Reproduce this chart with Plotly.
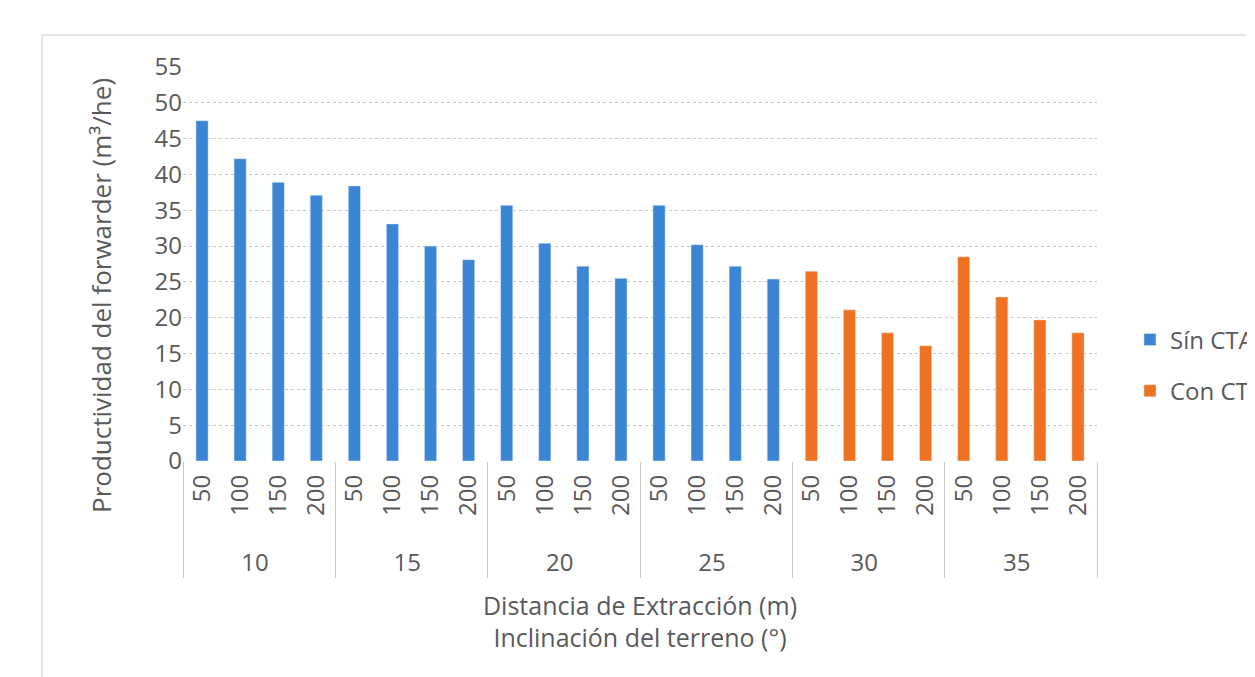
import plotly.graph_objects as go

inclinacion_sin = ["10"] * 4 + ["15"] * 4 + ["20"] * 4 + ["25"] * 4
distancia_sin = ["50", "100", "150", "200"] * 4
valores_sin = [47.5, 42.2, 38.9, 37.1,
               38.4, 33.1, 30.0, 28.1,
               35.7, 30.4, 27.2, 25.5,
               35.7, 30.2, 27.2, 25.4]

inclinacion_con = ["30"] * 4 + ["35"] * 4
distancia_con = ["50", "100", "150", "200"] * 2
valores_con = [26.5, 21.1, 17.9, 16.1,
               28.5, 22.9, 19.7, 17.9]

y_ticks = list(range(0, 60, 5))

font_family = "Open Sans, Lato, sans-serif"
grey = "#595959"
fs = 24

# leading figure/thin spaces lengthen the rotated inner labels downward,
# which lowers the outer (group) labels as in the reference
pad = "\u2007\u2009"


def padded(labels):
    return [pad + s for s in labels]


fig = go.Figure()
fig.add_trace(go.Bar(
    x=[inclinacion_sin, padded(distancia_sin)], y=valores_sin, name="Sín CTA",
    legendgroup="sin", marker=dict(color="#3a86d4"), width=0.32,
))
fig.add_trace(go.Bar(
    x=[inclinacion_con, padded(distancia_con)], y=valores_con, name="Con CTA",
    legendgroup="con", marker=dict(color="#ef7122"), width=0.32,
))

fig.update_layout(
    width=1255, height=677,
    margin=dict(l=175, r=166, t=59, b=224),
    paper_bgcolor="white", plot_bgcolor="white",
    barmode="overlay",
    font=dict(family=font_family, size=fs, color=grey),
    showlegend=True,
    legend=dict(xref="container", yref="container",
                x=0.894, y=0.472, xanchor="left", yanchor="middle",
                font=dict(size=fs, color=grey), itemwidth=30,
                tracegroupgap=17, bgcolor="rgba(0,0,0,0)"),
    xaxis=dict(
        type="multicategory", tickangle=-90, automargin=False,
        showline=False, showgrid=False, ticklabelstandoff=8,
        showdividers=True, dividercolor="#c8c8c8", dividerwidth=1,
        tickfont=dict(size=fs, color=grey),
        title=dict(text="Distancia de Extracción (m)<br>Inclinación del terreno (°)",
                   font=dict(size=25, color=grey), standoff=20),
    ),
    yaxis=dict(
        range=[0, 55], tickvals=y_ticks, ticktext=[str(v) for v in y_ticks],
        automargin=False,
        showgrid=True, gridcolor="#c8c8c8", griddash="dot", gridwidth=1,
        zeroline=False,
        showline=False, ticks="",
        tickfont=dict(size=fs, color=grey),
    ),
    annotations=[dict(text="Productividad del forwarder (m³/he)",
                      xref="paper", yref="paper", x=(101 - 183) / 914,
                      y=1 - (296 - 67) / 394, textangle=-90, showarrow=False,
                      xanchor="center", yanchor="middle",
                      font=dict(size=26, color=grey))],
    shapes=[dict(type="rect", xref="paper", yref="paper",
                 x0=(42 - 183) / 914, x1=1.3, y0=-0.7, y1=1 + 32 / 394,
                 line=dict(color="#dcdcdc", width=1.5),
                 fillcolor="rgba(0,0,0,0)", layer="below")],
)

fig.write_html("out.html")
